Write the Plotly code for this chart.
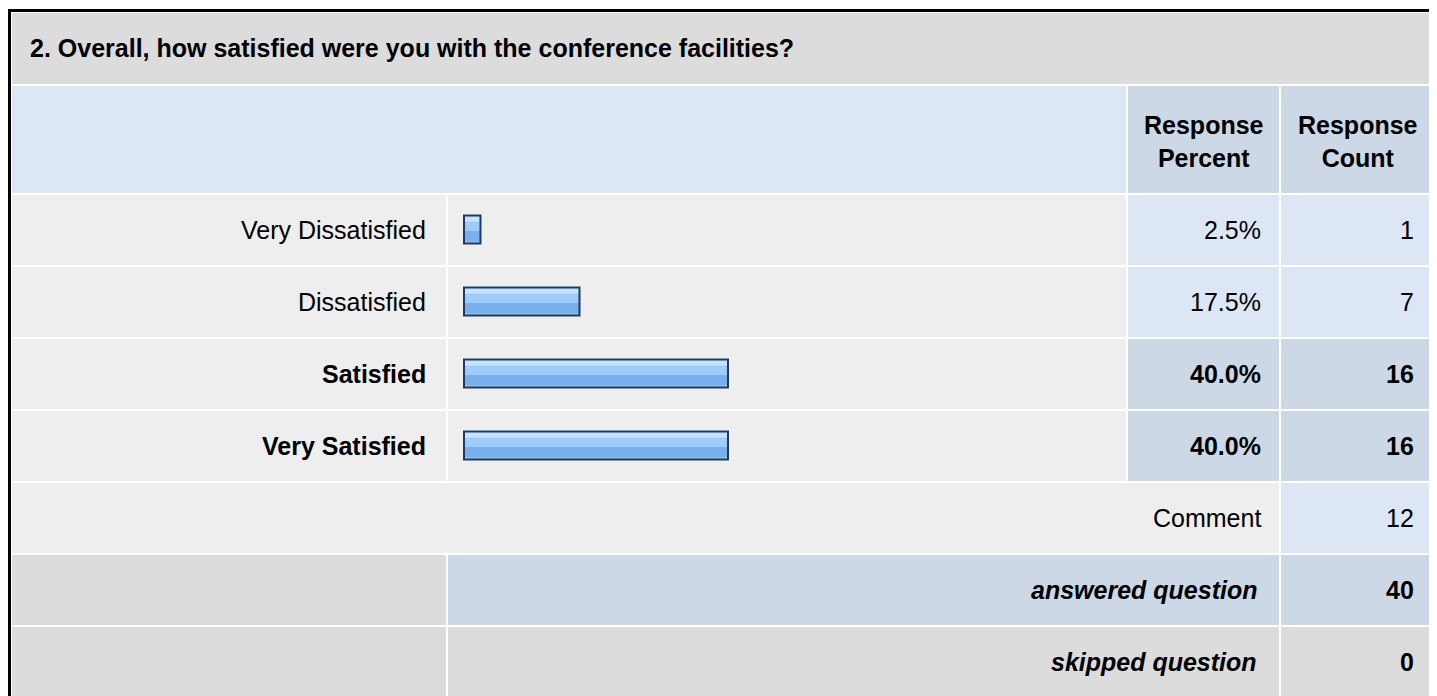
import plotly.graph_objects as go

# ---------------- data ----------------
title = "2. Overall, how satisfied were you with the conference facilities?"
categories = ["Very Dissatisfied", "Dissatisfied", "Satisfied", "Very Satisfied"]
percents = [2.5, 17.5, 40.0, 40.0]
counts = [1, 7, 16, 16]
header_percent = "Response<br>Percent"
header_count = "Response<br>Count"
comment_label = "Comment"
comment_count = 12
answered_label = "answered question"
answered_count = 40
skipped_label = "skipped question"
skipped_count = 0

# ---------------- geometry (page pixels) ----------------
OFF = 8          # body margin of the html page
W, H = 1429, 696
FONT = "Liberation Sans, Arial, Helvetica, sans-serif"
FS = 25

def px(x):
    return (x - OFF) / W

def py(y):
    return 1 - (y - OFF) / H

shapes = []

def rect(x0, y0, x1, y1, color):
    shapes.append(dict(type="rect", xref="paper", yref="paper",
                       x0=px(x0), x1=px(x1), y0=py(y1), y1=py(y0),
                       fillcolor=color, line=dict(width=0), layer="below"))

C_TITLE = "#dcdcdc"
C_HEAD = "#dce6f4"
C_STEEL = "#ccd8e6"
C_ROW = "#eeeeee"
C_LIGHT = "#dce6f4"

# columns
LAB = (12, 446)
BAR = (448, 1126)
PCT = (1128, 1279)
CNT = (1281, 1434)

# outer borders
rect(7, 9, 1437, 12, "#000000")
rect(7, 9, 11, 710, "#000000")
rect(1435, 12, 1437, 710, "#a8a8a8")

# title row
rect(12, 13, 1434, 84, C_TITLE)
# header row
rect(12, 86, 1126, 193, C_HEAD)
rect(PCT[0], 86, PCT[1], 193, C_STEEL)
rect(CNT[0], 86, CNT[1], 193, C_STEEL)

ROW0 = 195
PITCH = 72
RH = 70

annotations = []

def text(x, y, s, anchor="right", size=FS, bold=False, italic=False):
    if italic:
        s = "<i>" + s + "</i>"
    if bold:
        s = "<b>" + s + "</b>"
    annotations.append(dict(xref="paper", yref="paper", x=px(x), y=py(y),
                            text=s, showarrow=False, xanchor=anchor,
                            yanchor="middle", align="center",
                            font=dict(family=FONT, size=size, color="#000000")))

text(28, 48, title, anchor="left", bold=True)
text((PCT[0] + PCT[1]) / 2, 142, header_percent, anchor="center", bold=True)
text((CNT[0] + CNT[1]) / 2, 142, header_count, anchor="center", bold=True)

max_pct = max(percents)
for i, (cat, p, c) in enumerate(zip(categories, percents, counts)):
    top = ROW0 + PITCH * i
    is_max = p == max_pct
    rect(LAB[0], top, LAB[1], top + RH, C_ROW)
    rect(BAR[0], top, BAR[1], top + RH, C_ROW)
    cc = C_STEEL if is_max else C_LIGHT
    rect(PCT[0], top, PCT[1], top + RH, cc)
    rect(CNT[0], top, CNT[1], top + RH, cc)
    cy = top + RH / 2
    text(428, cy, cat, bold=is_max)
    text(1263, cy, f"{p:.1f}%", bold=is_max)
    text(1416, cy, str(c), bold=is_max)

# comment row
top = ROW0 + PITCH * 4
rect(LAB[0], top, PCT[1], top + RH, C_ROW)
rect(CNT[0], top, CNT[1], top + RH, C_LIGHT)
text(1263, top + RH / 2, comment_label)
text(1416, top + RH / 2, str(comment_count))

# answered row
top = ROW0 + PITCH * 5
rect(LAB[0], top, LAB[1], top + RH, C_TITLE)
rect(BAR[0], top, PCT[1], top + RH, C_STEEL)
rect(CNT[0], top, CNT[1], top + RH, C_STEEL)
text(1259, top + RH / 2, answered_label, bold=True, italic=True)
text(1416, top + RH / 2, str(answered_count), bold=True)

# skipped row
top = ROW0 + PITCH * 6
rect(LAB[0], top, LAB[1], top + RH + 20, C_TITLE)
rect(BAR[0], top, PCT[1], top + RH + 20, C_TITLE)
rect(CNT[0], top, CNT[1], top + RH + 20, C_TITLE)
text(1259, top + RH / 2, skipped_label, bold=True, italic=True)
text(1416, top + RH / 2, str(skipped_count), bold=True)

# ---------------- bars through data axes ----------------
BAR_X0 = 464          # page x of value 0
PX_PER_PCT = 6.6
ROW_C0 = 229.5        # page y of first row centre
BAR_H = 28

xr = [(OFF - BAR_X0) / PX_PER_PCT, (OFF + W - BAR_X0) / PX_PER_PCT]
yr = [(OFF + H - ROW_C0) / PITCH, (OFF - ROW_C0) / PITCH]
bw = BAR_H / PITCH
ypos = list(range(len(categories)))

fig = go.Figure()
# base fill
fig.add_trace(go.Bar(x=percents, y=ypos, orientation="h", width=bw,
                     marker=dict(color="#9dcbfa", line=dict(width=0)),
                     hoverinfo="skip"))
# light top stripe
fig.add_trace(go.Bar(x=percents, y=ypos, orientation="h", width=bw * 0.22,
                     offset=-bw / 2,
                     marker=dict(color="#c6e2fd", line=dict(width=0)),
                     hoverinfo="skip"))
# darker lower stripe
fig.add_trace(go.Bar(x=percents, y=ypos, orientation="h", width=bw * 0.38,
                     offset=bw * 0.05,
                     marker=dict(color="#78afec", line=dict(width=0)),
                     hoverinfo="skip"))
# outline
fig.add_trace(go.Bar(x=percents, y=ypos, orientation="h", width=bw,
                     marker=dict(color="rgba(0,0,0,0)",
                                 line=dict(width=2, color="#1f3a60")),
                     hoverinfo="skip"))

fig.update_layout(
    width=W, height=H,
    margin=dict(l=0, r=0, t=0, b=0),
    paper_bgcolor="#ffffff", plot_bgcolor="rgba(0,0,0,0)",
    barmode="overlay", showlegend=False,
    shapes=shapes, annotations=annotations,
    xaxis=dict(range=xr, visible=False, fixedrange=True),
    yaxis=dict(range=yr, visible=False, fixedrange=True),
)

fig.write_html("out.html")
